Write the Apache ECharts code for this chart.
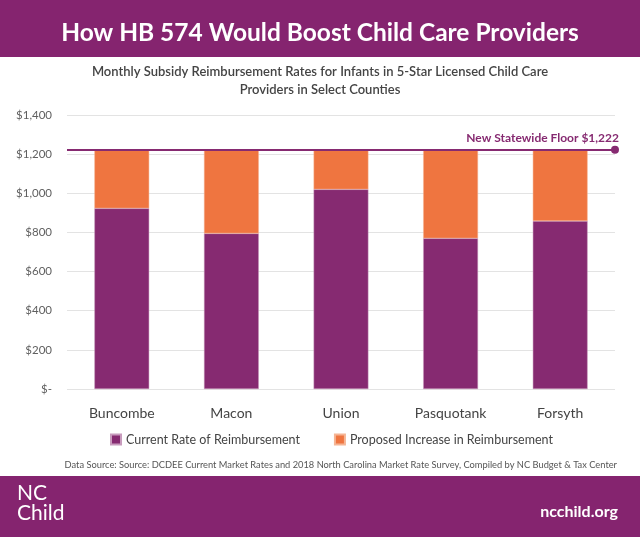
<!DOCTYPE html>
<html><head><meta charset="utf-8">
<script src="https://cdn.jsdelivr.net/npm/echarts@6/dist/echarts.min.js"></script>
<style>html,body{margin:0;padding:0;background:#fff}#c{width:640px;height:537px}</style>
</head><body><div id="c"></div>
<script>
const categories = ['Buncombe', 'Macon', 'Union', 'Pasquotank', 'Forsyth'];
const currentRate = [923, 795, 1020, 770, 858];
const proposedIncrease = [299, 427, 202, 452, 364];
const statewideFloor = 1222;
const yTicks = [0, 200, 400, 600, 800, 1000, 1200, 1400];

const PURPLE = '#862A71';
const ORANGE = '#EF7540';
const FONT = 'Lato, "Open Sans", sans-serif';

const chart = echarts.init(document.getElementById('c'));
chart.setOption({
  animation: false,
  textStyle: { fontFamily: FONT },
  graphic: [
    { type: 'rect', left: 0, top: 0, shape: { width: 640, height: 57 }, style: { fill: '#85246F' }, z: 0 },
    { type: 'rect', left: 0, top: 476, shape: { width: 640, height: 61 }, style: { fill: '#85246F' }, z: 0 },
    { type: 'text', left: 'center', top: 21, style: { text: 'How HB 574 Would Boost Child Care Providers', fill: '#fff', font: 'bold 24.5px ' + FONT } },
    { type: 'text', left: 'center', top: 63, style: { text: 'Monthly Subsidy Reimbursement Rates for Infants in 5-Star Licensed Child Care\nProviders in Select Counties', fill: '#444', font: '600 13px ' + FONT, textAlign: 'center', lineHeight: 18 } },
    { type: 'text', right: 23, top: 460, style: { text: 'Data Source: Source: DCDEE Current Market Rates and 2018 North Carolina Market Rate Survey, Compiled by NC Budget & Tax Center', fill: '#555', font: '9.3px ' + FONT } },
    { type: 'text', left: 17, top: 483, style: { text: 'NC\nChild', fill: '#fff', font: '21px ' + FONT, lineHeight: 20 } },
    { type: 'text', right: 22, top: 504, style: { text: 'ncchild.org', fill: '#fff', font: 'bold 16px ' + FONT } }
  ],
  grid: { left: 67, right: 25, top: 115, bottom: 148, containLabel: false },
  legend: {
    bottom: 86, left: 105, itemGap: 34, itemWidth: 10, itemHeight: 10, icon: 'rect',
    textStyle: { color: '#444', fontSize: 12.5, fontFamily: FONT },
    data: ['Current Rate of Reimbursement', 'Proposed Increase in Reimbursement']
  },
  xAxis: {
    type: 'category', data: categories,
    axisLine: { show: false }, axisTick: { show: false },
    axisLabel: { color: '#444', fontSize: 14, margin: 17, fontFamily: FONT }
  },
  yAxis: {
    type: 'value', min: 0, max: 1400, interval: 200,
    axisLine: { show: false }, axisTick: { show: false },
    splitLine: { lineStyle: { color: '#e3e3e3' } },
    axisLabel: { color: '#5f5f5f', fontSize: 11.5, margin: 15, fontFamily: FONT,
      formatter: v => v === 0 ? '$-' : '$' + v.toLocaleString('en-US') }
  },
  series: [
    { name: 'Current Rate of Reimbursement', type: 'bar', stack: 'a', barWidth: '50%',
      itemStyle: { color: PURPLE, borderColor: '#c89bbd', borderWidth: 0.5 }, data: currentRate,
      markLine: {
        silent: true, symbol: ['none', 'circle'], symbolSize: 8,
        lineStyle: { color: PURPLE, width: 2, type: 'solid' },
        label: { position: 'insideEndTop', formatter: 'New Statewide Floor $' + statewideFloor.toLocaleString('en-US'),
          color: PURPLE, fontWeight: 'bold', fontSize: 12, fontFamily: FONT, distance: [-4, 6] },
        data: [{ yAxis: statewideFloor }]
      }
    },
    { name: 'Proposed Increase in Reimbursement', type: 'bar', stack: 'a', barWidth: '50%',
      itemStyle: { color: ORANGE, borderColor: '#f5b595', borderWidth: 0.5 }, data: proposedIncrease }
  ]
});
</script></body></html>
